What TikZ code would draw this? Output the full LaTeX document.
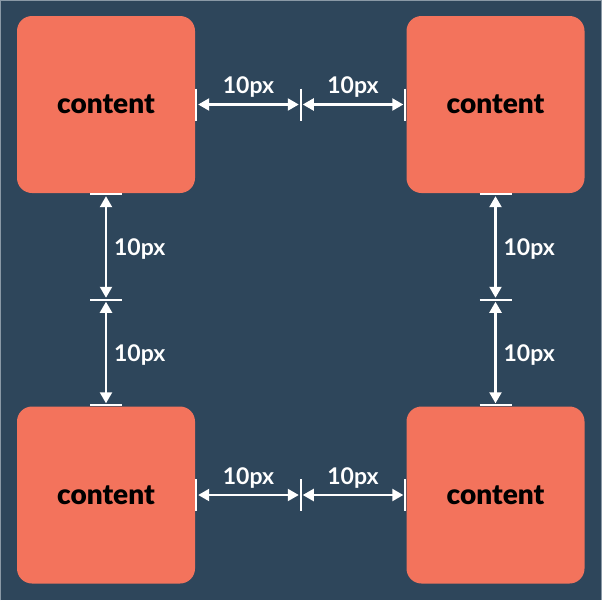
\documentclass[tikz,border=0pt]{standalone}
\usepackage{fontspec}
\setmainfont{Lato}
\newfontfamily\heavyfont{Lato Black}
\usetikzlibrary{arrows.meta}
\usetikzlibrary{positioning}
\usetikzlibrary{calc}
\definecolor{slate}{HTML}{2E465B}
\definecolor{salmon}{HTML}{F3735C}
\definecolor{rim}{HTML}{8A99A6}

\begin{document}
\begin{tikzpicture}[x=1pt, y=-1pt,
    box/.style={rectangle, fill=salmon, rounded corners=15pt, minimum width=178pt, minimum height=177pt, inner sep=0pt, font=\heavyfont\fontsize{28}{30}\selectfont},
    tick/.style={white, line width=2pt},
    gap/.style={white, line width=2.2pt, {Triangle[length=11pt,width=12pt]}-{Triangle[length=11pt,width=12pt]}, shorten >=2pt, shorten <=2pt},
    dim/.style={text=white, inner sep=0pt, font=\fontsize{23}{26}\selectfont\bfseries}]
        % Background with a thin rim
        \fill[slate] (0,0) rectangle (602,600);
        \draw[rim, line width=0.8pt] (0.4,600) -- (0.4,0.4) -- (601.6,0.4) -- (601.6,600);
        \useasboundingbox (0,0) rectangle (602,600);

        % Draw the four boxes
        \node[box] (tl) at (106,104.5) {content};
        \node[box] (tr) at (495.5,104.5) {content};
        \node[box] (bl) at (106,495) {content};
        \node[box] (br) at (495.5,495) {content};

        % Horizontal gaps between the boxes of a row
        \foreach \a/\b/\m in {tl/tr/hT, bl/br/hB}
        {
          \coordinate (\m) at ($(\a.east)!0.5!(\b.west)$);
          \draw[tick] ($(\a.east)+(1,-16)$) -- ($(\a.east)+(1,16)$);
          \draw[tick] ($(\m)+(0,-16)$) -- ($(\m)+(0,16)$);
          \draw[tick] ($(\b.west)+(-1,-16)$) -- ($(\b.west)+(-1,16)$);
          \draw[gap] ($(\a.east)+(1,0)$) -- (\m) node[dim, midway, above=6pt] {10px};
          \draw[gap] (\m) -- ($(\b.west)+(-1,0)$) node[dim, midway, above=6pt] {10px};
        }

        % Vertical gaps between the boxes of a column
        \foreach \a/\b/\m in {tl/bl/vL, tr/br/vR}
        {
          \coordinate (\m) at ($(\a.south)!0.5!(\b.north)$);
          \draw[tick] ($(\a.south)+(-16,1)$) -- ($(\a.south)+(16,1)$);
          \draw[tick] ($(\m)+(-16,0)$) -- ($(\m)+(16,0)$);
          \draw[tick] ($(\b.north)+(-16,-1)$) -- ($(\b.north)+(16,-1)$);
          \draw[gap] ($(\a.south)+(0,1)$) -- (\m) node[dim, midway, right=7pt, yshift=-2pt] {10px};
          \draw[gap] (\m) -- ($(\b.north)+(0,-1)$) node[dim, midway, right=7pt, yshift=-2pt] {10px};
        }
      \end{tikzpicture}
\end{document}
